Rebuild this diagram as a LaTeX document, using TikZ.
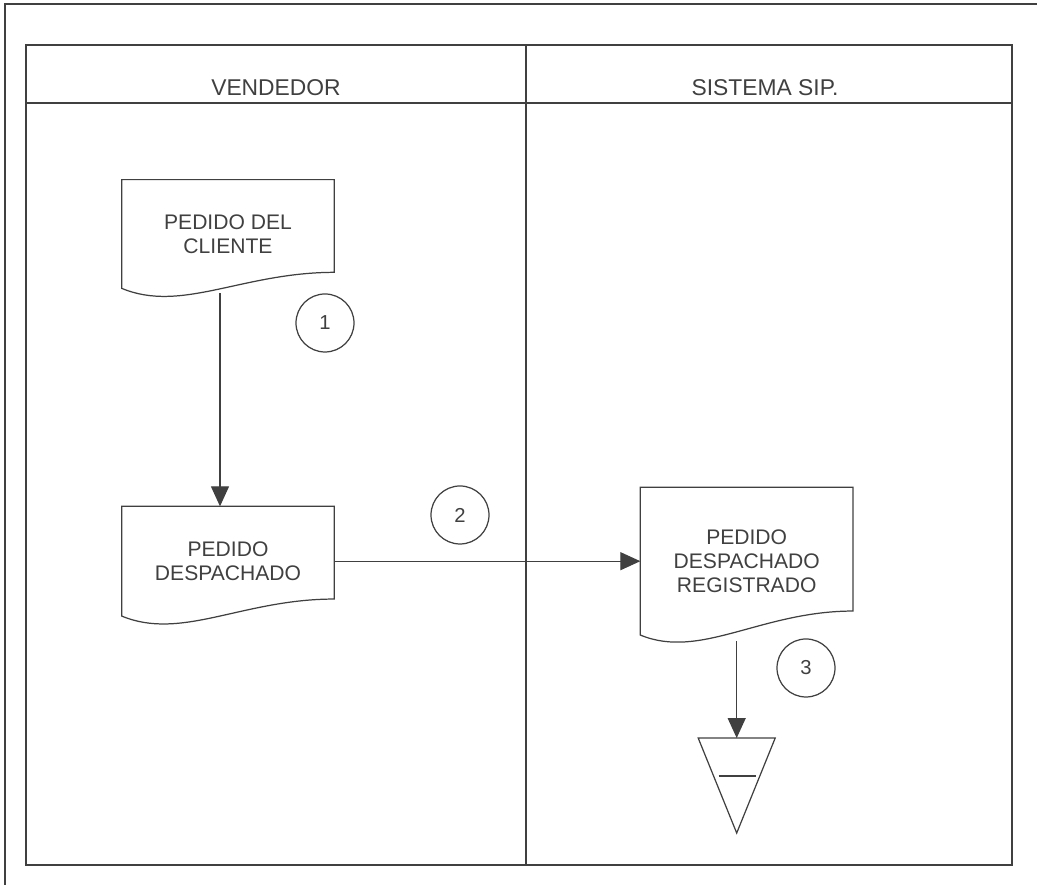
\documentclass[tikz,border=0pt]{standalone}
\usepackage{fontspec}
\setmainfont{Liberation Sans}
\usepackage{tikz}
\usetikzlibrary{arrows.meta,positioning,calc}
\tikzset{
  linea/.style={draw=black!75, line width=0.7pt},
  carril/.style={font=\fontsize{13}{15}\selectfont, text=black!75, inner sep=0pt},
  docu/.style={rectangle, align=center, font=\fontsize{12}{13.6}\selectfont,
               text=black!75, minimum width=4.24cm, inner sep=0pt},
  paso/.style={circle, draw=black!75, line width=0.7pt, minimum size=1.16cm,
               inner sep=0pt, font=\fontsize{11.5}{13}\selectfont, text=black!75},
  fl/.style={-{Triangle[length=0.4cm, width=0.36cm]}, draw=black!75, line width=0.7pt},
}
\begin{document}
\begin{tikzpicture}
\useasboundingbox (0,0) rectangle (20.74,17.7);
% marco y carriles
\draw[linea] (0.10,0) -- (0.10,17.62) -- (20.74,17.62);
\draw[linea] (0.52,0.40) rectangle (20.24,16.8);
\draw[linea] (0.52,15.64) -- (20.24,15.64);
\draw[linea] (10.52,0.40) -- (10.52,16.8);
\node[carril] (vendedor) at (5.52,15.94) {VENDEDOR};
\node[carril] (sistema) at (15.30,15.94) {SISTEMA SIP.};
% documentos
\node[docu, minimum height=2.16cm] (cliente) at (4.56,13.02) {PEDIDO DEL\\CLIENTE};
\node[docu, minimum height=2.18cm, below=4.36cm of cliente] (despachado) {PEDIDO\\DESPACHADO};
\node[docu, minimum height=2.94cm, right=6.12cm of despachado] (registrado) {PEDIDO\\DESPACHADO\\REGISTRADO};
\foreach \d/\h in {cliente/0.32, despachado/0.34, registrado/0.48}
  \draw[linea] (\d.north west) -- (\d.north east) -- ([yshift=\h cm]\d.south east)
    .. controls +(-1.84,0) and +(1.2,-0.5) .. (\d.south west) -- cycle;
% archivo
\coordinate (archivo) at ([xshift=-0.2cm, yshift=-2.06cm]registrado.south);
\draw[linea] ([xshift=-0.77cm]archivo) -- ([xshift=0.77cm]archivo) -- ([yshift=-1.9cm]archivo) -- cycle;
\draw[linea] ([xshift=-0.36cm, yshift=-0.76cm]archivo) -- ([xshift=0.38cm, yshift=-0.76cm]archivo);
% pasos
\node[paso] (p1) at (6.50,11.24) {1};
\node[paso] (p2) at (9.20,7.40) {2};
\node[paso] (p3) at (16.12,4.34) {3};
% flujos
\draw[fl] ([xshift=-0.16cm, yshift=-0.1cm]cliente.south) -- ([xshift=-0.16cm]despachado.north);
\draw[fl] (despachado.east) -- (despachado.east -| registrado.west);
\draw[fl] ([xshift=-0.2cm, yshift=-0.12cm]registrado.south) -- (archivo);
\end{tikzpicture}
\end{document}
